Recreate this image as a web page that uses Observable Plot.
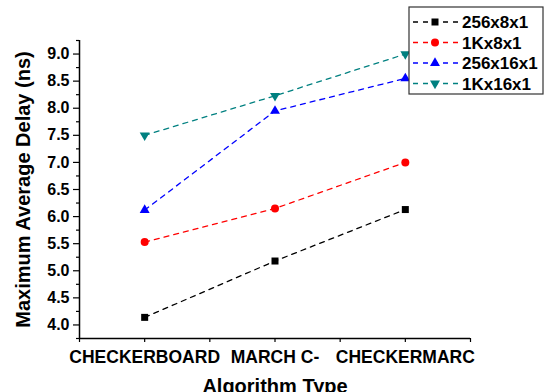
<!DOCTYPE html>
<html><head><meta charset="utf-8">
<script src="https://cdn.jsdelivr.net/npm/d3@7"></script>
<script src="https://cdn.jsdelivr.net/npm/@observablehq/plot@0.6"></script>
<style>
body{margin:0;background:#fff;}
#wrap{position:relative;width:548px;height:392px;overflow:hidden;background:#fff;}
#legend{position:absolute;left:408px;top:6px;}
</style></head><body><div id="wrap"></div>
<script>
// ---- data ----
const categories = ["CHECKERBOARD", "MARCH C-", "CHECKERMARC"];
const seriesNames = ["256x8x1", "1Kx8x1", "256x16x1", "1Kx16x1"];
const seriesColors = ["#000000", "#ff0000", "#0000ff", "#008080"];
const seriesSymbols = ["square", "circle", "triangle", "triangle"];
const seriesRotate = [0, 0, 0, 180];
const v256x8x1 = [4.14, 5.18, 6.13];
const v1Kx8x1 = [5.53, 6.15, 7.00];
const v256x16x1 = [6.12, 7.95, 8.55];
const v1Kx16x1 = [7.50, 8.23, 9.00];
const seriesValues = [v256x8x1, v1Kx8x1, v256x16x1, v1Kx16x1];
const yTicks = [4.0, 4.5, 5.0, 5.5, 6.0, 6.5, 7.0, 7.5, 8.0, 8.5, 9.0];
const yMinorTicks = [3.75, 4.25, 4.75, 5.25, 5.75, 6.25, 6.75, 7.25, 7.75, 8.25, 8.75, 9.25];
const xTicks = [-0.5, 0, 0.5, 1, 1.5, 2, 2.5];
const yLabel = "Maximum Average Delay (ns)";
const xLabel = "Algorithm Type";

const rows = [];
seriesNames.forEach((s, k) => seriesValues[k].forEach((v, i) => rows.push({s, i, v, cat: categories[i]})));

const FA = "Liberation Sans, Arial, sans-serif";
const dotR = {square: 3.95, circle: 4.0, triangle: 3.7};

const plot = Plot.plot({
  width: 548, height: 392,
  marginLeft: 79, marginRight: 78, marginTop: 40, marginBottom: 54,
  style: {background: "white", overflow: "visible"},
  x: {domain: [-0.5, 2.5]},
  y: {domain: [3.75, 9.25]},
  color: {domain: seriesNames, range: seriesColors},
  marks: [
    Plot.axisY({ticks: yMinorTicks, tickSize: 3, tickFormat: () => "", label: null, strokeWidth: 1.2}),
    Plot.axisY({ticks: yTicks, tickSize: 6, tickPadding: 4, tickFormat: d3.format(".1f"), label: null,
      fontSize: 16, fontWeight: "bold", fontFamily: FA, fill: "#000", strokeWidth: 1.2}),
    Plot.axisY({ticks: [], label: yLabel, labelAnchor: "center", labelOffset: 64, labelArrow: "none",
      fontSize: 20, fontWeight: "bold", fontFamily: FA, fill: "#000"}),
    Plot.axisX({ticks: xTicks, tickSize: 4, tickPadding: 8,
      tickFormat: d => Number.isInteger(d) ? categories[d] : "", label: null,
      fontSize: 17.5, fontWeight: "bold", fontFamily: FA, fill: "#000", strokeWidth: 1.2}),
    Plot.axisX({ticks: [], label: xLabel, labelAnchor: "center", labelOffset: 54, labelArrow: "none",
      fontSize: 20, fontWeight: "bold", fontFamily: FA, fill: "#000"}),
    Plot.ruleX([-0.5], {stroke: "#000", strokeWidth: 1.5}),
    Plot.ruleY([3.75], {stroke: "#000", strokeWidth: 1.5}),
    Plot.line(rows, {x: "i", y: "v", z: "s", stroke: "s", strokeWidth: 1.3, strokeDasharray: "5,5"}),
    ...seriesNames.map((s, k) => Plot.dot(rows.filter(d => d.s === s), {
      x: "i", y: "v", fill: seriesColors[k], stroke: "none",
      symbol: seriesSymbols[k], r: dotR[seriesSymbols[k]], rotate: seriesRotate[k]
    }))
  ]
});
const wrap = document.getElementById("wrap");
wrap.appendChild(plot);

// ---- legend ----
const lw = 136, lh = 89, rowH = 20.5, row0 = 16;
const leg = d3.select(wrap).append("svg").attr("id", "legend").attr("width", lw).attr("height", lh);
leg.append("rect").attr("x", 1).attr("y", 1).attr("width", lw - 2).attr("height", lh - 2)
  .attr("fill", "#fff").attr("stroke", "#333").attr("stroke-width", 1.2);
const symMap = {square: d3.symbolSquare, circle: d3.symbolCircle, triangle: d3.symbolTriangle};
seriesNames.forEach((s, k) => {
  const g = leg.append("g").attr("transform", `translate(0,${row0 + k * rowH})`);
  g.append("line").attr("x1", 5).attr("x2", 50).attr("y1", 0).attr("y2", 0)
    .attr("stroke", seriesColors[k]).attr("stroke-width", 1.3).attr("stroke-dasharray", "5,5");
  const r = dotR[seriesSymbols[k]];
  g.append("path").attr("d", d3.symbol(symMap[seriesSymbols[k]], Math.PI * r * r)())
    .attr("transform", `translate(27,0) rotate(${seriesRotate[k]})`).attr("fill", seriesColors[k]);
  g.append("text").attr("x", 54).attr("y", 0).attr("dy", "0.36em")
    .attr("font-family", FA).attr("font-weight", "bold").attr("font-size", 17).attr("fill", "#000").text(s);
});
</script></body></html>
